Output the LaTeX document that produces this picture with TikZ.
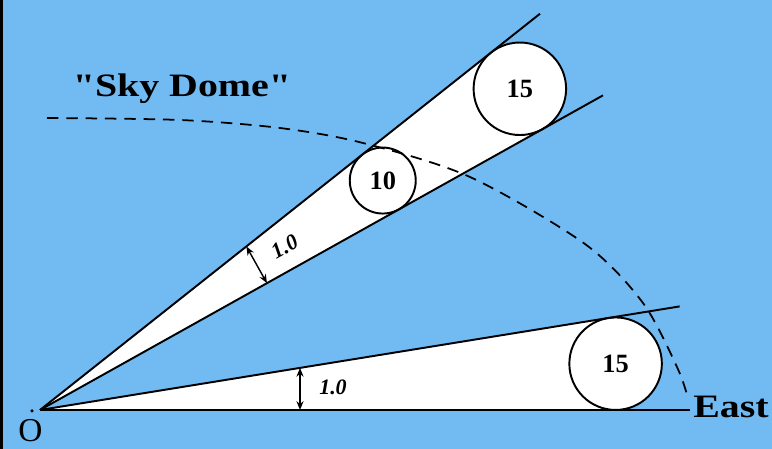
\documentclass[tikz,border=0pt]{standalone}
\usepackage{fontspec}
\setmainfont{Liberation Serif}
\newfontfamily\widefont[FakeStretch=1.22]{Liberation Serif}
\usetikzlibrary{arrows.meta}

\begin{document}
\begin{tikzpicture}

    % Colors
    \definecolor{skyblue}{RGB}{114,186,242}

    % Beam geometry: half-angle, full opening (deg), tilt of the upper beam
    \def\ha{4.6}
    \def\wa{9.2}
    \def\tilt{29.2}

    % Layout: 1 unit = 1 cm, O at the origin, East along +x
    \fill[skyblue] (-0.8,-0.78) rectangle (14.64,8.2);
    \fill[black] (-0.8,-0.78) rectangle (-0.74,8.2);
    \useasboundingbox (-0.8,-0.78) rectangle (14.64,8.2);

    \tikzset{
        beam/.style={line width=1.1pt},
        ball/.style={circle, draw, fill=white, line width=1.1pt, inner sep=0pt,
            font=\bfseries\fontsize{15}{15}\selectfont},
        span/.style={line width=0.8pt,
            {Stealth[length=5pt,width=4pt]}-{Stealth[length=5pt,width=4pt]}},
        spanlabel/.style={inner sep=1pt, font=\bfseries\itshape\fontsize{12.5}{12.5}\selectfont},
        biglabel/.style={inner sep=0pt, font=\widefont\bfseries\fontsize{18.6}{18.6}\selectfont}
    }

    % --- Lower beam (along East) ---
    \fill[white] (0,0) -- (0:11.51) -- (\wa:11.51) -- cycle;
    \node[ball, minimum size=1.85cm] (east15) at (\ha:11.55) {15};
    \draw[beam] (0,0) -- (0:13.0);
    \draw[beam] (0,0) -- (\wa:12.96);
    \coordinate (lfoot) at (5.2,0);
    \coordinate (ltop) at (5.2,0.842);
    \draw[span] (lfoot) -- (ltop);
    \node[spanlabel] (lspan) at (5.86,0.46) {1.0};

    % --- Upper beam (same beam, tilted) ---
    \begin{scope}[rotate=\tilt]
        \fill[white] (0,0) -- (0:11.51) -- (\wa:11.51) -- cycle;
        \node[ball, minimum size=1.85cm] (sky15) at (\ha:11.55) {15};
        \node[ball, minimum size=1.32cm] (sky10) at (\ha:8.25) {10};
        \draw[beam] (0,0) -- (0:12.9);
        \draw[beam] (0,0) -- (\wa:12.76);
        \coordinate (ufoot) at (5.2,0);
        \coordinate (utop) at (5.2,0.842);
        \draw[span] (ufoot) -- (utop);
        \node[spanlabel, rotate=\tilt] (uspan) at (5.86,0.46) {1.0};
    \end{scope}

    % --- Sky dome (dashed) ---
    \draw[line width=1pt, dash pattern=on 6.5pt off 4.5pt]
        plot[smooth] coordinates {(0.14,5.84) (2.8,5.80) (4.8,5.64) (6.46,5.34)
            (8.6,4.66) (10.9,3.32) (12.06,2.14) (12.74,0.86) (12.96,0.24)};

    % --- Labels ---
    \node[biglabel, anchor=base] (dome) at (2.84,6.26) {"Sky Dome"};
    \node[biglabel, anchor=base west] (east) at (13.06,-0.16) {East};
    \node[circle, fill, inner sep=0pt, minimum size=0.07cm] (O) at (-0.16,-0.02) {};
    \node[inner sep=0pt, font=\fontsize{19}{19}\selectfont, anchor=base] (olabel) at (-0.19,-0.64) {O};

\end{tikzpicture}
\end{document}
